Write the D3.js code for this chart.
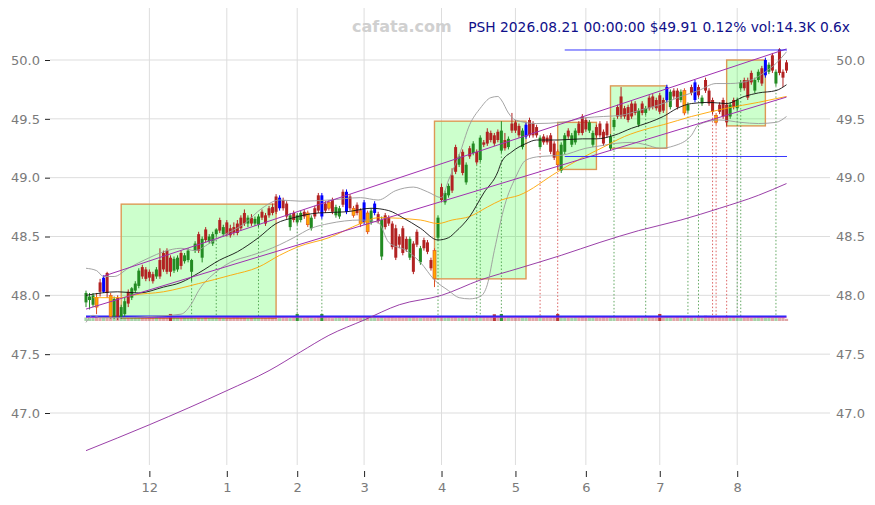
<!DOCTYPE html>
<html><head><meta charset="utf-8">
<script src="https://cdn.jsdelivr.net/npm/d3@7/dist/d3.min.js"></script>
<style>body{margin:0;background:#fff}svg{display:block}text{font-family:"DejaVu Sans",sans-serif}</style>
</head><body><svg id="c" width="875" height="505"></svg>
<script>
const opens=[47.94,47.96,47.92,47.98,48.11,48.03,48.19,48.00,47.82,47.98,
47.82,47.84,48.03,47.98,48.04,48.08,48.24,48.22,48.20,48.18,
48.16,48.30,48.36,48.38,48.32,48.21,48.22,48.36,48.29,48.30,
48.20,48.38,48.52,48.32,48.56,48.46,48.44,48.52,48.64,48.52,
48.62,48.57,48.58,48.61,48.66,48.70,48.61,48.66,48.61,48.60,
48.71,48.68,48.74,48.75,48.84,48.74,48.81,48.78,48.58,48.70,
48.62,48.64,48.71,48.70,48.57,48.74,48.85,48.67,48.78,48.79,
48.81,48.68,48.67,48.88,48.71,48.84,48.74,48.77,48.72,48.62,
48.70,48.62,48.70,48.69,48.33,48.68,48.66,48.61,48.57,48.50,
48.57,48.48,48.32,48.44,48.54,48.28,48.47,48.45,48.30,48.38,
48.49,48.92,48.79,48.85,49.02,49.26,49.11,49.22,48.96,49.25,
49.21,49.22,49.15,49.30,49.39,49.38,49.36,49.39,49.23,49.32,
49.26,49.46,49.47,49.44,49.26,49.35,49.49,49.46,49.43,49.26,
49.35,49.34,49.36,49.29,49.22,49.06,49.22,49.40,49.28,49.30,
49.46,49.52,49.49,49.40,49.28,49.43,49.46,49.39,49.46,49.25,
49.43,49.60,49.69,49.59,49.60,49.63,49.63,49.45,49.63,49.55,
49.68,49.69,49.66,49.70,49.66,49.66,49.60,49.74,49.74,49.66,
49.74,49.57,49.77,49.66,49.77,49.63,49.83,49.74,49.66,49.53,
49.62,49.66,49.62,49.52,49.66,49.59,49.76,49.83,49.83,49.89,
49.74,49.83,49.93,49.87,49.90,50.04,49.80,50.09,49.90,49.98];
const highs=[48.04,48.02,48.02,48.02,48.14,48.17,48.20,48.02,47.99,48.00,
47.92,47.98,48.05,48.07,48.12,48.23,48.26,48.24,48.22,48.20,
48.24,48.40,48.38,48.40,48.34,48.33,48.34,48.38,48.36,48.40,
48.31,48.46,48.54,48.50,48.58,48.52,48.54,48.57,48.66,48.60,
48.64,48.60,48.62,48.64,48.68,48.73,48.68,48.69,48.67,48.69,
48.73,48.70,48.76,48.78,48.86,48.85,48.83,48.80,48.70,48.72,
48.70,48.72,48.73,48.72,48.68,48.76,48.87,48.87,48.80,48.81,
48.83,48.77,48.76,48.90,48.90,48.86,48.76,48.79,48.74,48.81,
48.72,48.74,48.80,48.71,48.67,48.70,48.68,48.63,48.60,48.52,
48.59,48.50,48.50,48.46,48.56,48.42,48.49,48.47,48.32,48.40,
48.68,48.95,48.89,48.95,49.08,49.28,49.20,49.24,49.13,49.27,
49.31,49.24,49.36,49.32,49.42,49.40,49.38,49.41,49.48,49.38,
49.35,49.55,49.49,49.46,49.42,49.47,49.51,49.48,49.45,49.36,
49.37,49.36,49.38,49.31,49.24,49.30,49.38,49.42,49.38,49.42,
49.48,49.54,49.51,49.49,49.40,49.45,49.48,49.41,49.48,49.37,
49.51,49.62,49.77,49.61,49.62,49.65,49.65,49.59,49.65,49.61,
49.70,49.71,49.68,49.72,49.68,49.79,49.75,49.76,49.76,49.75,
49.76,49.64,49.79,49.83,49.79,49.70,49.85,49.76,49.68,49.55,
49.64,49.68,49.64,49.64,49.68,49.68,49.83,49.85,49.85,49.91,
49.85,49.92,49.95,50.02,49.98,50.06,49.92,50.10,49.92,50.00];
const lows=[47.90,47.88,47.90,47.84,47.99,48.02,47.98,47.80,47.80,47.79,
47.80,47.82,47.90,47.96,48.02,48.06,48.14,48.12,48.12,48.10,
48.14,48.14,48.20,48.18,48.16,48.19,48.20,48.22,48.27,48.28,
48.12,48.36,48.36,48.28,48.45,48.44,48.42,48.50,48.53,48.50,
48.50,48.49,48.51,48.51,48.55,48.59,48.58,48.59,48.59,48.58,
48.64,48.59,48.66,48.68,48.69,48.72,48.72,48.65,48.55,48.62,
48.60,48.62,48.65,48.58,48.55,48.65,48.70,48.65,48.70,48.72,
48.69,48.66,48.65,48.75,48.69,48.72,48.66,48.68,48.58,48.60,
48.52,48.60,48.68,48.61,48.30,48.56,48.59,48.39,48.30,48.40,
48.34,48.37,48.30,48.18,48.41,48.26,48.38,48.35,48.21,48.07,
48.47,48.79,48.77,48.83,48.87,49.03,49.09,49.02,48.94,49.16,
49.19,49.11,49.13,49.26,49.27,49.30,49.27,49.30,49.21,49.23,
49.24,49.38,49.38,49.34,49.24,49.33,49.34,49.34,49.34,49.24,
49.28,49.28,49.20,49.15,49.07,49.04,49.20,49.33,49.26,49.28,
49.36,49.36,49.39,49.38,49.26,49.34,49.34,49.27,49.34,49.23,
49.41,49.50,49.50,49.50,49.47,49.50,49.53,49.43,49.53,49.53,
49.57,49.58,49.57,49.54,49.55,49.64,49.58,49.67,49.58,49.64,
49.53,49.55,49.70,49.64,49.68,49.61,49.72,49.61,49.54,49.45,
49.54,49.50,49.44,49.50,49.58,49.57,49.74,49.74,49.66,49.79,
49.72,49.81,49.78,49.85,49.88,49.89,49.78,49.87,49.77,49.89];
const closes=[48.02,47.99,48.00,47.90,48.03,48.15,48.02,47.82,47.97,47.82,
47.90,47.95,47.93,48.06,48.10,48.21,48.16,48.14,48.15,48.12,
48.22,48.16,48.22,48.20,48.20,48.31,48.32,48.25,48.34,48.38,
48.30,48.44,48.38,48.48,48.47,48.50,48.52,48.56,48.55,48.58,
48.52,48.51,48.53,48.53,48.57,48.61,48.66,48.61,48.65,48.67,
48.66,48.61,48.68,48.70,48.71,48.83,48.74,48.67,48.68,48.64,
48.68,48.70,48.67,48.60,48.66,48.67,48.72,48.85,48.72,48.74,
48.71,48.75,48.74,48.77,48.88,48.74,48.68,48.70,48.61,48.79,
48.54,48.72,48.78,48.63,48.64,48.58,48.61,48.41,48.32,48.43,
48.36,48.39,48.48,48.20,48.43,48.40,48.40,48.37,48.23,48.14,
48.66,48.81,48.87,48.93,48.89,49.05,49.18,49.04,49.11,49.18,
49.29,49.13,49.34,49.28,49.29,49.32,49.29,49.32,49.40,49.25,
49.33,49.40,49.40,49.36,49.40,49.45,49.36,49.36,49.36,49.34,
49.30,49.30,49.22,49.17,49.11,49.28,49.36,49.35,49.36,49.40,
49.38,49.38,49.41,49.47,49.38,49.36,49.36,49.29,49.36,49.35,
49.49,49.52,49.52,49.52,49.49,49.52,49.55,49.57,49.55,49.59,
49.59,49.60,49.59,49.56,49.57,49.77,49.73,49.69,49.60,49.73,
49.55,49.62,49.72,49.81,49.70,49.68,49.74,49.63,49.56,49.47,
49.56,49.52,49.47,49.62,49.60,49.66,49.81,49.76,49.68,49.81,
49.83,49.90,49.80,50.00,49.96,49.91,49.90,49.89,49.85,49.91];
const volumes=[22,18,20,30,24,26,28,32,26,24,20,22,18,20,22,24,20,18,22,20,
24,26,22,20,44,24,20,18,22,20,24,22,20,18,22,20,24,22,20,18,
22,20,24,26,22,20,18,22,24,20,22,20,24,22,26,28,24,22,20,22,
44,22,20,24,22,20,24,44,22,20,18,22,24,20,26,22,20,24,22,26,
28,22,24,20,26,22,24,26,22,24,20,22,24,26,22,20,24,22,26,30,
26,24,22,24,26,28,22,24,26,22,24,22,26,32,30,24,42,22,44,22,
24,22,20,22,24,26,22,20,24,34,22,24,22,26,44,24,22,20,22,24,
22,24,20,22,24,22,20,24,22,26,24,22,20,24,22,20,24,22,20,22,
24,22,20,44,22,24,22,20,24,22,26,24,22,20,24,22,34,32,24,22,
24,22,26,22,24,22,20,22,24,20,22,24,22,20,24,22,26,22,24,14];
const blueIdx=[5,55,67,74,79,82,125,165,173,193];
const orangeIdx=[3,7,63,69,76,78,80,99,134,170,179];
const monthIdx=[18,40,60,79,101,122,142,163,185];
const monthLabels=["12","1","2","3","4","5","6","7","8"];
const yTicks=[47.0,47.5,48.0,48.5,49.0,49.5,50.0];
const sma20=[[0,48.00],[9,48.03],[15,48.02],[22,48.07],[27,48.11],[32,48.19],[38,48.30],[43,48.37],[49,48.49],[54,48.61],[59,48.66],[66,48.70],[74,48.71],[81,48.74],[86,48.72],[90,48.66],[95,48.57],[100,48.47],[103,48.49],[105,48.54],[109,48.67],[113,48.87],[117,49.05],[118,49.13],[121,49.22],[125,49.29],[128,49.32],[134,49.32],[141,49.33],[145,49.33],[150,49.36],[155,49.42],[160,49.47],[164,49.52],[168,49.59],[172,49.63],[177,49.64],[182,49.63],[187,49.69],[191,49.72],[196,49.74],[199,49.79]];
const sma50=[[2,47.98],[10,47.98],[13,48.00],[22,48.03],[32,48.10],[41,48.17],[49,48.24],[55,48.34],[60,48.41],[69,48.49],[78,48.61],[83,48.66],[95,48.64],[100,48.61],[104,48.64],[109,48.67],[114,48.75],[118,48.81],[123,48.85],[134,49.05],[141,49.17],[147,49.26],[153,49.35],[160,49.42],[164,49.45],[172,49.52],[182,49.59],[191,49.64],[199,49.69]];
const bbUpper=[[0,48.23],[3,48.21],[5,48.16],[8,48.16],[12,48.23],[18,48.32],[22,48.37],[27,48.40],[31,48.38],[35,48.44],[39,48.51],[45,48.61],[50,48.74],[55,48.81],[61,48.80],[69,48.81],[78,48.83],[83,48.81],[88,48.89],[93,48.92],[97,48.88],[101,48.83],[103,48.98],[106,49.19],[109,49.45],[112,49.59],[115,49.68],[117,49.69],[118,49.66],[120,49.55],[122,49.49],[128,49.46],[135,49.47],[142,49.51],[147,49.52],[152,49.53],[157,49.57],[163,49.62],[169,49.69],[174,49.74],[179,49.80],[183,49.80],[189,49.83],[193,49.90],[196,49.97],[199,50.07]];
const bbLower=[[0,47.77],[2,47.83],[4,47.81],[10,47.81],[18,47.82],[27,47.84],[30,47.93],[32,48.04],[37,48.20],[41,48.28],[47,48.34],[51,48.38],[55,48.43],[59,48.49],[64,48.57],[69,48.61],[78,48.64],[83,48.62],[86,48.45],[91,48.38],[95,48.28],[99,48.13],[103,48.04],[106,47.98],[109,47.97],[112,47.99],[114,48.09],[116,48.38],[119,48.77],[122,49.00],[125,49.15],[129,49.18],[135,49.19],[142,49.25],[146,49.27],[150,49.29],[155,49.30],[159,49.28],[163,49.25],[167,49.27],[172,49.36],[174,49.45],[180,49.49],[186,49.47],[191,49.46],[196,49.47],[199,49.52]];
const sma200=[[0,46.68],[18,46.90],[40,47.19],[52,47.36],[61,47.52],[69,47.66],[79,47.79],[89,47.92],[101,48.00],[112,48.13],[123,48.23],[135,48.34],[146,48.45],[157,48.55],[169,48.64],[180,48.74],[191,48.85],[199,48.95]];
const channelUpper=[[5,48.163],[199,50.094]];
const channelLower=[[0,47.883],[199,49.685]];
const boxes=[[10,54,48.775,47.805],[99,125,49.48,48.14],[134,145,49.47,49.07],[149,165,49.78,49.25],[182,193,50.0,49.44]];
const levels=[[136,199,50.085],[136,199,49.18]];
const volMA=[[0,29],[199,29]];
const volMA2=[[0,23],[199,23]];
const greenSignals=[30,37,49,60,67,100,111,112,118,150,159,171,174,185,186,196];
const redSignals=[129,134,178,179,182];
const titleText="PSH 2026.08.21 00:00:00 $49.91 0.12% vol:14.3K 0.6x";

const svg=d3.select("#c");
const x=d3.scaleLinear().domain([0,199]).range([86,786.5]);
const y=d3.scaleLinear().domain([47,50]).range([413,60]);
const yv=d3.scaleLinear().domain([0,50]).range([321,313]);
const L=50,R=830,T=8,B=465;

svg.append("g").selectAll("line").data(yTicks).join("line")
 .attr("x1",L).attr("x2",R).attr("y1",d=>y(d)).attr("y2",d=>y(d)).attr("stroke","#dddddd");
svg.append("g").selectAll("line").data(monthIdx).join("line")
 .attr("x1",d=>x(d)).attr("x2",d=>x(d)).attr("y1",T).attr("y2",B).attr("stroke","#dddddd");

const ax1=svg.append("g").attr("transform",`translate(${L},0)`)
 .call(d3.axisLeft(y).tickValues(yTicks).tickFormat(d3.format(".1f")).tickSize(5).tickPadding(5));
const ax2=svg.append("g").attr("transform",`translate(${R},0)`)
 .call(d3.axisRight(y).tickValues(yTicks).tickFormat(d3.format(".1f")).tickSize(0).tickPadding(6));
const ax3=svg.append("g").attr("transform",`translate(0,471)`)
 .call(d3.axisBottom(x).tickValues(monthIdx).tickFormat((d,i)=>monthLabels[i]).tickSize(6).tickPadding(6));
[ax1,ax2,ax3].forEach(a=>{a.select(".domain").remove();
 a.selectAll("text").attr("fill","#7a7a7a").style("font-size","13px").style("font-family","DejaVu Sans");
 a.selectAll(".tick line").attr("stroke","#222");});

svg.append("g").selectAll("rect").data(boxes).join("rect")
 .attr("x",d=>x(d[0])).attr("width",d=>x(d[1])-x(d[0]))
 .attr("y",d=>y(d[2])).attr("height",d=>y(d[3])-y(d[2]))
 .attr("fill","rgba(0,255,0,0.2)").attr("stroke","#dd9955").attr("stroke-width",1.4);

const sig=svg.append("g");
sig.selectAll(".g").data(greenSignals).join("line")
 .attr("x1",d=>x(d)).attr("x2",d=>x(d)).attr("y1",d=>y(lows[d])).attr("y2",y(47.81))
 .attr("stroke","#2e8b2e").attr("stroke-opacity",0.75).attr("stroke-dasharray","1.5,2");
sig.selectAll(".r").data(redSignals).join("line")
 .attr("x1",d=>x(d)).attr("x2",d=>x(d)).attr("y1",d=>y(lows[d])).attr("y2",y(47.81))
 .attr("stroke","#d03030").attr("stroke-opacity",0.75).attr("stroke-dasharray","1.5,2");

const up=i=>closes[i]>=opens[i];
svg.append("g").selectAll("rect").data(volumes).join("rect")
 .attr("x",(d,i)=>x(i)-1.6).attr("width",3.2)
 .attr("y",d=>yv(d)).attr("height",d=>yv(0)-yv(d))
 .attr("fill",(d,i)=>up(i)?"#228b22":"#b22222")
 .attr("fill-opacity",d=>d>40?0.9:0.4);

const line=d3.line().x(d=>x(d[0])).y(d=>y(d[1])).curve(d3.curveMonotoneX);
const vline=d3.line().x(d=>x(d[0])).y(d=>yv(d[1]));
svg.append("path").datum(volMA).attr("d",vline).attr("fill","none").attr("stroke","#2020ff").attr("stroke-width",1.6);
svg.append("path").datum(volMA2).attr("d",vline).attr("fill","none").attr("stroke","#9932cc").attr("stroke-width",1);

const data=d3.range(closes.length);
function col(i){ if(blueIdx.includes(i)) return "#0000ff"; if(orangeIdx.includes(i)) return "#ffa500"; return up(i)?"#228b22":"#b22222"; }
const cg=svg.append("g");
cg.selectAll("line").data(data).join("line")
 .attr("x1",i=>x(i)).attr("x2",i=>x(i)).attr("y1",i=>y(highs[i])).attr("y2",i=>y(lows[i]))
 .attr("stroke",i=>orangeIdx.includes(i)?"#e05020":col(i)).attr("stroke-width",1);
cg.selectAll("rect").data(data).join("rect")
 .attr("x",i=>x(i)-1.5).attr("width",3)
 .attr("y",i=>y(Math.max(opens[i],closes[i])))
 .attr("height",i=>Math.max(1,Math.abs(y(opens[i])-y(closes[i]))))
 .attr("fill",col).attr("stroke",i=>orangeIdx.includes(i)?"#e05020":"none").attr("stroke-width",0.6);

const lg=svg.append("g").attr("fill","none");
lg.append("path").datum(sma200).attr("d",line).attr("stroke","#8e2a9e").attr("stroke-width",0.9);
lg.append("path").datum(bbUpper).attr("d",line).attr("stroke","#9a9a9a").attr("stroke-width",0.9);
lg.append("path").datum(bbLower).attr("d",line).attr("stroke","#9a9a9a").attr("stroke-width",0.9);
lg.append("path").datum(sma50).attr("d",line).attr("stroke","#ffa500").attr("stroke-width",0.9);
lg.append("path").datum(sma20).attr("d",line).attr("stroke","#111").attr("stroke-width",0.9);
const sline=d3.line().x(d=>x(d[0])).y(d=>y(d[1]));
lg.append("path").datum(channelUpper).attr("d",sline).attr("stroke","#a030b0").attr("stroke-width",1);
lg.append("path").datum(channelLower).attr("d",sline).attr("stroke","#a030b0").attr("stroke-width",1);
lg.selectAll(".lv").data(levels).join("line")
 .attr("x1",d=>x(d[0])).attr("x2",d=>x(d[1])+0.5).attr("y1",d=>y(d[2])).attr("y2",d=>y(d[2]))
 .attr("stroke","#2020ff").attr("stroke-width",0.9);

svg.append("text").attr("x",352).attr("y",32).text("cafata.com")
 .attr("fill","#d0d0d0").style("font-size","16px").style("font-weight","bold");
svg.append("text").attr("x",850).attr("y",32).attr("text-anchor","end").text(titleText)
 .attr("fill","#10108a").style("font-size","13.8px");
</script></body></html>
